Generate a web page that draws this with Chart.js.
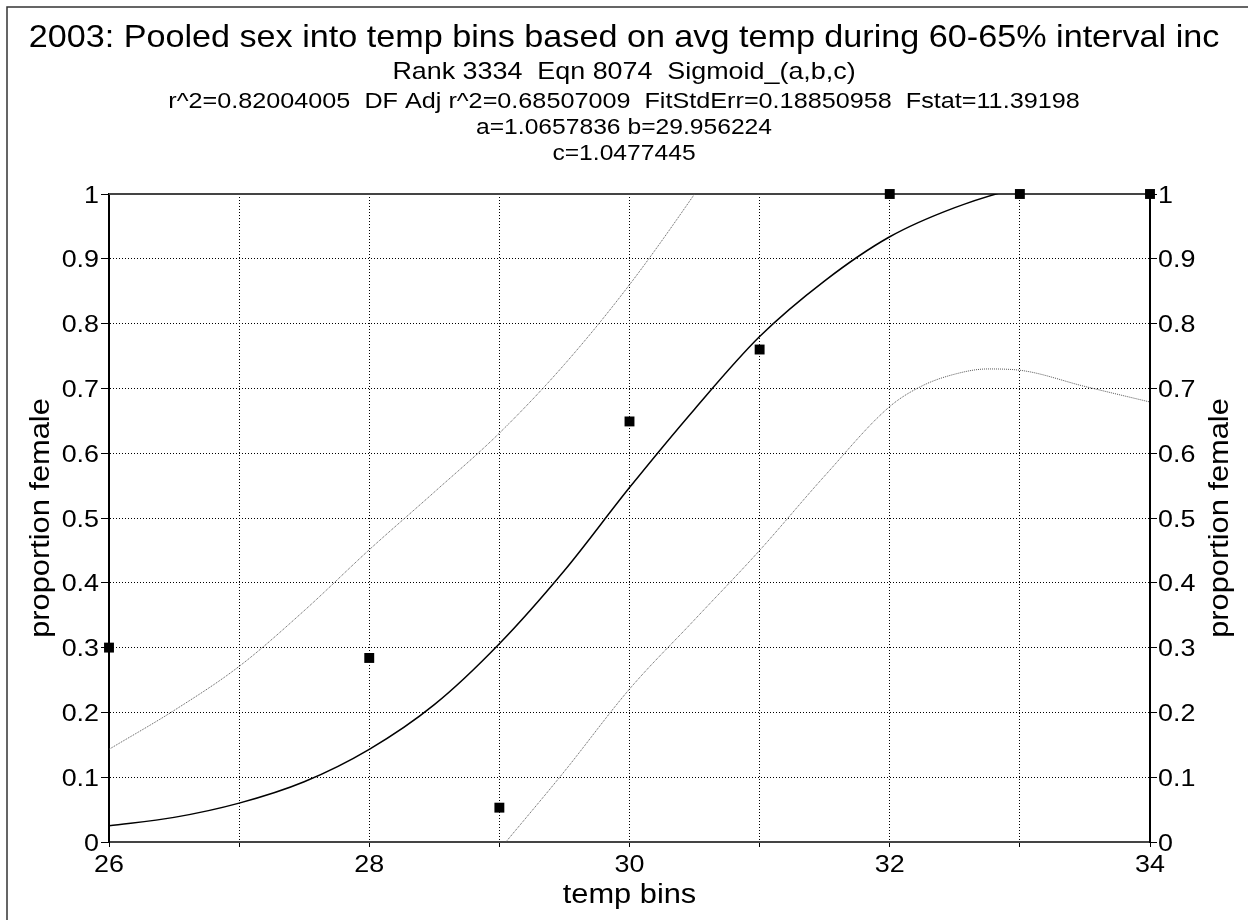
<!DOCTYPE html>
<html>
<head>
<meta charset="utf-8">
<script src="https://cdn.jsdelivr.net/npm/chart.js@4.4.1/dist/chart.umd.min.js"></script>
<style>
  html, body { margin: 0; padding: 0; background: #fff; }
  #wrap { position: relative; width: 1248px; height: 920px; }
</style>
</head>
<body>
<div id="wrap"><canvas id="chart"></canvas></div>
<script>
// header text
const titleLines = [
    '2003: Pooled sex into temp bins based on avg temp during 60-65% interval inc',
    'Rank 3334  Eqn 8074  Sigmoid_(a,b,c)',
    'r^2=0.82004005  DF Adj r^2=0.68507009  FitStdErr=0.18850958  Fstat=11.39198',
    'a=1.0657836 b=29.956224',
    'c=1.0477445'
];
const xAxisTitle = 'temp bins';
const yAxisTitle = 'proportion female';

// tick labels
const xTickLabels = ['26', '', '28', '', '30', '', '32', '', '34'];
const yTickLabels = ['0', '0.1', '0.2', '0.3', '0.4', '0.5', '0.6', '0.7', '0.8', '0.9', '1'];

// measured points
const tempBins = [26, 28, 29, 30, 31, 32, 33, 34];
const propFemale = [0.300, 0.284, 0.053, 0.649, 0.760, 1, 1, 1];

// fitted sigmoid
const fitX = [26, 26.5, 27, 27.5, 28, 28.5, 29, 29.5, 30, 30.5, 31, 31.5, 32, 32.5, 33, 33.5, 34];
const fitY = [0.025, 0.038, 0.060, 0.093, 0.143, 0.212, 0.306, 0.419, 0.547, 0.668, 0.780, 0.866, 0.934, 0.979, 1.010, 1.030, 1.044];

// upper confidence band
const upperX = [26, 26.5, 27, 27.5, 28, 28.5, 29, 29.5, 30, 30.5, 31];
const upperY = [0.143, 0.203, 0.271, 0.357, 0.451, 0.540, 0.631, 0.737, 0.860, 1.000, 1.150];

// lower confidence band
const lowerX = [29, 29.5, 30, 30.5, 31, 31.5, 32, 32.25, 32.5, 32.75, 33, 33.5, 34];
const lowerY = [-0.012, 0.109, 0.236, 0.343, 0.450, 0.565, 0.672, 0.704, 0.722, 0.730, 0.728, 0.703, 0.679];

const FONT = '"Liberation Sans", Arial, sans-serif';
const SX = 1.12; // the reference text is a bit wider than Arial

function pts(xs, ys) {
    return xs.map((x, i) => ({ x: x, y: ys[i] }));
}

function drawText(ctx, text, x, y, size, align, rot) {
    ctx.save();
    ctx.translate(x, y);
    if (rot) ctx.rotate(rot);
    ctx.scale(SX, 1);
    ctx.font = size + 'px ' + FONT;
    ctx.textAlign = align;
    ctx.textBaseline = 'alphabetic';
    ctx.fillStyle = '#000';
    ctx.fillText(text, 0, 0);
    ctx.restore();
}

// frame, top line, header, tick labels and axis titles
const decor = {
    id: 'decor',
    beforeDatasetsDraw(chart) {
        const { ctx, chartArea: a } = chart;
        ctx.save();
        ctx.strokeStyle = '#444';
        ctx.lineWidth = 2;
        ctx.beginPath();
        ctx.moveTo(a.left, a.top);
        ctx.lineTo(a.right, a.top);
        ctx.stroke();
        ctx.restore();
    },
    afterDraw(chart) {
        const { ctx, chartArea: a, scales } = chart;
        ctx.save();
        ctx.strokeStyle = '#333';
        ctx.lineWidth = 1.5;
        ctx.beginPath();
        ctx.moveTo(7, chart.height);
        ctx.lineTo(7, 7);
        ctx.lineTo(chart.width, 7);
        ctx.stroke();
        ctx.restore();

        const cx = chart.width / 2;
        drawText(ctx, titleLines[0], cx, 47, 30.5, 'center');
        drawText(ctx, titleLines[1], cx, 79, 24, 'center');
        drawText(ctx, titleLines[2], cx, 108, 22.5, 'center');
        drawText(ctx, titleLines[3], cx, 134, 22, 'center');
        drawText(ctx, titleLines[4], cx, 160, 22, 'center');

        scales.x.ticks.forEach((t, i) => {
            drawText(ctx, xTickLabels[i], scales.x.getPixelForValue(t.value), a.bottom + 30, 24, 'center');
        });
        scales.y.ticks.forEach((t, i) => {
            const py = scales.y.getPixelForValue(t.value) + 8.5;
            drawText(ctx, yTickLabels[i], a.left - 10, py, 24, 'right');
            drawText(ctx, yTickLabels[i], a.right + 8, py, 24, 'left');
        });

        const cy = (a.top + a.bottom) / 2;
        drawText(ctx, xAxisTitle, (a.left + a.right) / 2, a.bottom + 61, 27.5, 'center');
        drawText(ctx, yAxisTitle, 49, cy, 27.5, 'center', -Math.PI / 2);
        drawText(ctx, yAxisTitle, a.right + 78, cy, 27.5, 'center', -Math.PI / 2);
    }
};

const ctx = document.getElementById('chart').getContext('2d');
new Chart(ctx, {
    type: 'scatter',
    data: {
        datasets: [{
            label: 'data',
            data: pts(tempBins, propFemale),
            pointStyle: 'rect',
            pointRadius: 7,
            pointBorderWidth: 0,
            backgroundColor: '#000',
            showLine: false,
            clip: false
        }, {
            label: 'fit',
            data: pts(fitX, fitY),
            showLine: true,
            borderColor: '#000',
            borderWidth: 1.5,
            pointRadius: 0,
            cubicInterpolationMode: 'monotone'
        }, {
            label: 'upper',
            data: pts(upperX, upperY),
            showLine: true,
            borderColor: '#555',
            borderWidth: 1,
            borderDash: [1, 1],
            pointRadius: 0,
            cubicInterpolationMode: 'monotone'
        }, {
            label: 'lower',
            data: pts(lowerX, lowerY),
            showLine: true,
            borderColor: '#555',
            borderWidth: 1,
            borderDash: [1, 1],
            pointRadius: 0,
            cubicInterpolationMode: 'monotone'
        }]
    },
    options: {
        responsive: true,
        maintainAspectRatio: false,
        animation: false,
        events: [],
        layout: { padding: { top: 194, left: 0, right: 0, bottom: 0 } },
        plugins: {
            legend: { display: false },
            tooltip: { enabled: false }
        },
        scales: {
            x: {
                type: 'linear',
                min: 26,
                max: 34,
                ticks: { stepSize: 1, display: false },
                grid: { color: '#000', lineWidth: 1, tickLength: 5, tickColor: '#000' },
                border: { color: '#444', width: 2, dash: [1, 2] },
                afterFit: s => { s.height = 78; }
            },
            y: {
                min: 0,
                max: 1,
                ticks: { stepSize: 0.1, display: false },
                grid: { color: '#000', lineWidth: 1, tickLength: 8, tickColor: '#000' },
                border: { color: '#000', width: 2, dash: [1, 2] },
                afterFit: s => { s.width = 109; }
            },
            y2: {
                position: 'right',
                min: 0,
                max: 1,
                ticks: { stepSize: 0.1, display: false },
                grid: { drawOnChartArea: false, tickLength: 7, color: '#000', tickColor: '#000' },
                border: { color: '#000', width: 2 },
                afterFit: s => { s.width = 98; }
            }
        }
    },
    plugins: [decor]
});
</script>
</body>
</html>
